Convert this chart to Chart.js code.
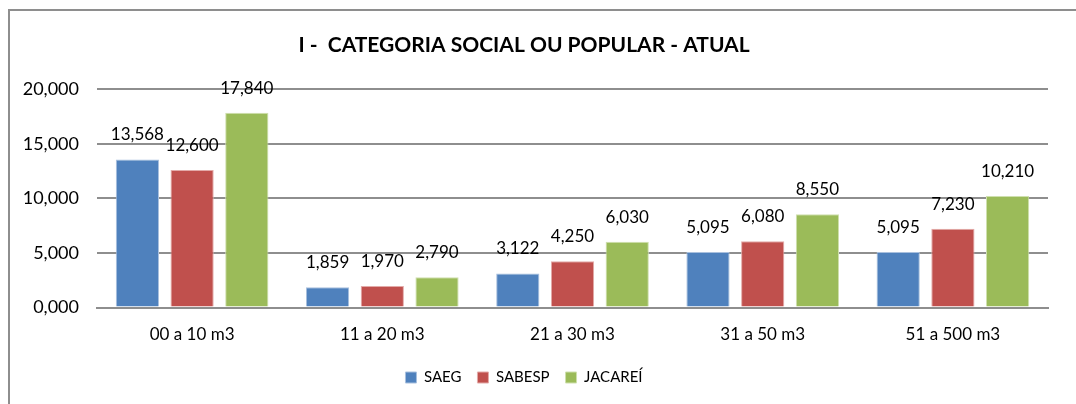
<!DOCTYPE html>
<html>
<head>
<meta charset="utf-8">
<script src="https://cdn.jsdelivr.net/npm/chart.js@4/dist/chart.umd.min.js"></script>
<style>
  body { margin: 0; background: #fff; }
  #wrap { position: relative; width: 1076px; height: 404px; overflow: hidden; }
  #frame { position: absolute; left: 8px; top: 9px; width: 1100px; height: 500px; border: 2px solid #8e8e8e; pointer-events: none; }
  canvas { position: absolute; left: 0; top: 0; }
</style>
</head>
<body>
<div id="wrap">
  <canvas id="chart" width="1076" height="404"></canvas>
  <div id="frame"></div>
</div>
<script>
const categories = ['00 a 10 m3', '11 a 20 m3', '21 a 30 m3', '31 a 50 m3', '51 a 500 m3'];
const saeg = [13.568, 1.859, 3.122, 5.095, 5.095];
const sabesp = [12.600, 1.970, 4.250, 6.080, 7.230];
const jacarei = [17.840, 2.790, 6.030, 8.550, 10.210];

const fmt = v => v.toFixed(3).replace('.', ',');
const FONT = 'Lato, "Open Sans", sans-serif';

// value labels above each bar
const barLabels = {
    id: 'barLabels',
    afterDatasetsDraw(chart) {
        const ctx = chart.ctx;
        ctx.save();
        ctx.font = '17px ' + FONT;
        ctx.fillStyle = '#000';
        ctx.textAlign = 'center';
        ctx.textBaseline = 'bottom';
        chart.data.datasets.forEach((ds, i) => {
            chart.getDatasetMeta(i).data.forEach((bar, j) => {
                ctx.fillText(fmt(ds.data[j]), bar.x, bar.y - 16);
            });
        });
        ctx.restore();
    }
};

new Chart(document.getElementById('chart').getContext('2d'), {
    type: 'bar',
    data: {
        labels: categories,
        datasets: [
            { label: 'SAEG', data: saeg, backgroundColor: '#4F81BD', borderColor: '#a9c0de', borderWidth: 1 },
            { label: 'SABESP', data: sabesp, backgroundColor: '#C0504D', borderColor: '#e3aaa8', borderWidth: 1 },
            { label: 'JACAREÍ', data: jacarei, backgroundColor: '#9BBB59', borderColor: '#cfe0ae', borderWidth: 1 }
        ]
    },
    options: {
        responsive: false,
        animation: false,
        layout: { padding: { left: 0, right: 28, top: 0, bottom: 9 } },
        datasets: { bar: { categoryPercentage: 0.863, barPercentage: 0.79 } },
        plugins: {
            title: {
                display: true,
                text: 'I -  CATEGORIA SOCIAL OU POPULAR - ATUAL',
                color: '#000',
                font: { family: FONT, size: 21, weight: 'bold' },
                padding: { top: 33, bottom: 31 }
            },
            legend: {
                position: 'bottom',
                labels: {
                    color: '#000',
                    font: { family: FONT, size: 15 },
                    boxWidth: 11,
                    boxHeight: 11,
                    padding: 16
                }
            },
            tooltip: { enabled: false }
        },
        scales: {
            x: {
                grid: { display: false },
                border: { color: '#8e8e8e', width: 2 },
                ticks: { color: '#000', font: { family: FONT, size: 17 }, padding: 9 }
            },
            y: {
                min: 0,
                max: 20,
                afterFit: s => { s.width = 97; },
                grid: { color: '#8e8e8e', lineWidth: 2, drawTicks: false },
                border: { display: false },
                ticks: { stepSize: 5, color: '#000', font: { family: FONT, size: 18 }, padding: 18, callback: v => fmt(v) }
            }
        }
    },
    plugins: [barLabels]
});
</script>
</body>
</html>
